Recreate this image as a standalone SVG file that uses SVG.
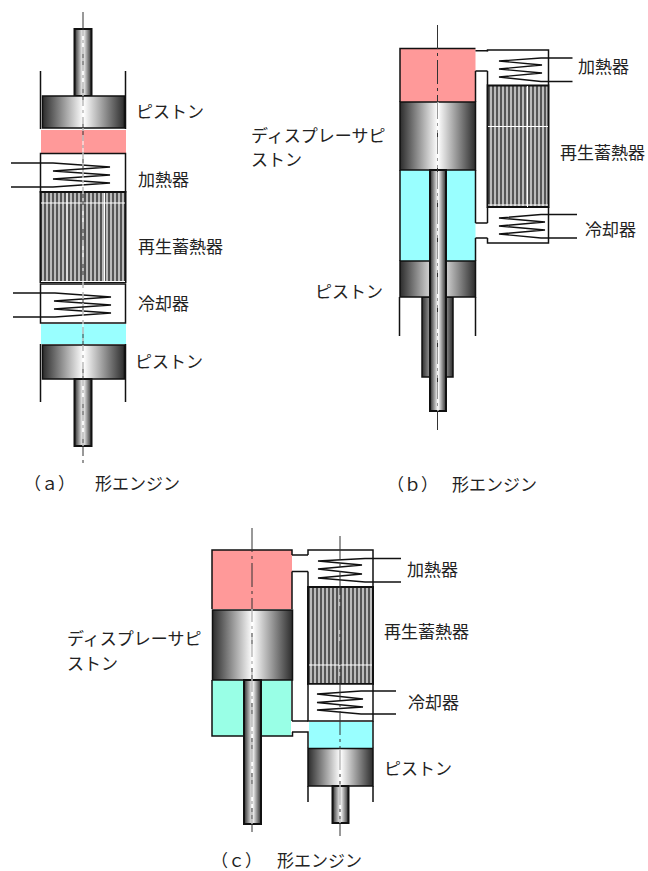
<svg xmlns="http://www.w3.org/2000/svg" width="648" height="871" viewBox="0 0 648 871">
<style>
text{font-family:"Noto Sans CJK JP","Noto Sans",sans-serif;font-size:17px;fill:#222}
.o{fill:none;stroke:#111;stroke-width:1.5}
.w{fill:none;stroke:#111;stroke-width:1.5}
.c{fill:none;stroke:#111;stroke-width:1.4}
.p{stroke:#111;stroke-width:1.5;fill:url(#g)}
.r{stroke:#111;stroke-width:2;fill:url(#g)}
.box{fill:#fff;stroke:#111;stroke-width:1.5}
.pink{fill:#ff9999}
.cyan{fill:#99ffff}
.teal{fill:#99ffe6}
.reg{fill:url(#s);stroke:#111;stroke-width:2}
.ax{fill:none;stroke:#333;stroke-width:1;stroke-dasharray:24 4 3 4}
.axw{fill:none;stroke:#fff;stroke-width:1;stroke-dasharray:24 4 3 4}
.wl{stroke:#fff;stroke-width:1}
</style>
<defs>
<linearGradient id="g"><stop offset="0" stop-color="#2c2c2c"/><stop offset=".5" stop-color="#fff"/><stop offset="1" stop-color="#2c2c2c"/></linearGradient>
<pattern id="s" patternUnits="userSpaceOnUse" width="4" height="4"><rect width="4" height="4" fill="#555"/><rect x="2" width="2" height="4" fill="#bbb"/></pattern>
</defs>

<g id="a-rod-top"><rect class="r" x="74.500" y="29" width="17" height="67"/></g>
<g id="a-walls"><path class="w" d="M40.500 71V129M125.500 71V129M40.500 344V402M125.500 344V402"/></g>
<g id="a-piston-top"><rect class="p" x="42.500" y="96" width="82" height="32"/></g>
<g id="a-hot"><rect class="pink" x="41" y="130" width="85" height="23"/></g>
<g id="a-heater"><rect class="box" x="40.500" y="153.500" width="85" height="38.500"/><polyline class="c" points="11,163 53,163 110,167 53,171 110,175 53,179 110,183 53,187 11,187"/></g>
<g id="a-regen"><rect class="reg" x="40.500" y="192" width="85" height="90"/><path class="wl" d="M41 203H125M67 193V282M104.500 193V282M41 281.500H125"/></g>
<g id="a-cooler"><rect class="box" x="40.500" y="284" width="85" height="39"/><polyline class="c" points="13,293 55,293 111,297 54,301 111,305 54,309 111,313 55,317 13,317"/></g>
<g id="a-cold"><rect class="cyan" x="41" y="324" width="85" height="20"/></g>
<g id="a-piston-bottom"><rect class="p" x="42.500" y="345" width="82" height="34"/></g>
<g id="a-rod-bottom"><rect class="r" x="74.500" y="379" width="17" height="67"/></g>

<g id="b-hot"><rect class="pink" x="400" y="49" width="75.500" height="53"/><path class="o" d="M400 102V48.500H475.500M475.500 71V102"/></g>
<g id="b-cold"><rect class="cyan" x="400" y="170" width="75.500" height="91"/><path class="o" d="M400 170V261M475.500 170V223M475.500 238V261"/></g>
<g id="b-sleeve"><rect class="p" x="422" y="297" width="31" height="80"/></g>
<g id="b-walls"><path class="w" d="M399.500 297V336M475.500 297V336"/></g>
<g id="b-displacer"><rect class="p" x="400" y="102" width="75.500" height="68"/></g>
<g id="b-piston"><rect class="p" x="400" y="261" width="75.500" height="36"/></g>
<g id="b-rod"><rect class="r" x="430" y="170" width="16" height="241"/></g>
<g id="b-heater"><path class="o" d="M487.500 51.500V50H548.500V85M487.500 71V85"/><polyline class="c" points="572.500,58 541,58 499,61 542,65 499,69 542,73 499,77 541,81.500 572.500,81.500"/></g>
<g id="b-regen"><rect class="reg" x="487.500" y="85.500" width="61" height="121.500"/><path class="wl" d="M488 126.500H548M527.500 86V207M488 205H548"/></g>
<g id="b-cooler"><path class="o" d="M487.500 207.500V223M548.500 207.500V243H487.500V238"/><polyline class="c" points="577,214.500 541,214.500 499,218 545,222 499,226 545,230 499,234 541,238 577,238"/></g>

<g id="c-hot"><rect class="pink" x="212" y="550" width="80" height="59"/><path class="o" d="M212 609V550H292V555M292 571.500V609"/></g>
<g id="c-cold"><rect class="teal" x="212" y="680" width="79" height="56"/><path class="o" d="M212 680V736H292.500V732M292 721V680"/></g>
<g id="c-displacer"><rect class="p" x="212.500" y="610" width="80" height="70"/></g>
<g id="c-rod"><rect class="r" x="244" y="680" width="17" height="144"/></g>
<g id="c-heater"><path class="o" d="M308 555V550H373V587M308 571.500V587"/><polyline class="c" points="401,558.500 365,558.500 318,561 362,565 318,569 362,574 318,578 365,582 401,582"/></g>
<g id="c-regen"><rect class="reg" x="308" y="587" width="65" height="97"/><path class="wl" d="M309 665H372"/></g>
<g id="c-cooler"><rect class="box" x="308" y="684" width="65" height="37"/><polyline class="c" points="396,691 361,691 317,694 363,699 317,702.500 363,707 317,710 361,714 396,714"/></g>
<g id="c-cold2"><rect class="cyan" x="309" y="722" width="63.500" height="26"/><path class="o" d="M373 721V748"/></g>
<g id="c-piston"><rect class="p" x="308" y="748.500" width="65" height="37.500"/></g>
<g id="c-walls"><path class="w" d="M308 786V802M373 786V802"/></g>
<g id="c-rod2"><rect class="r" x="332.500" y="786" width="16" height="37"/></g>

<g id="connectors">
<path class="o" d="M475.500 50.700H487.500M475.500 71H487.500M475.500 223H487.500M475.500 238H487.500"/>
<path class="o" d="M292 555H308M292 571.500H308M292 721H308M292 732H308V748"/>
<path class="ax" d="M83 12V463"/><path class="axw" d="M83 30V446"/>
<path class="ax" d="M437.500 25V430"/><path class="axw" d="M438 102V411"/>
<path class="ax" d="M252 528V836"/><path class="axw" d="M252 609V824"/>
<path class="ax" d="M340 536V836"/><path class="axw" d="M340 749V823"/>
</g>

<g id="labels">
<text x="136" y="118">ピストン</text>
<text x="138" y="186">加熱器</text>
<text x="138" y="253">再生蓄熱器</text>
<text x="138" y="310">冷却器</text>
<text x="135" y="368">ピストン</text>
<text x="24" y="490">（ａ）<tspan x="95">形エンジン</tspan></text>
<text x="578" y="73">加熱器</text>
<text x="560" y="159">再生蓄熱器</text>
<text x="585" y="236">冷却器</text>
<text x="251" y="142">ディスプレーサピ</text>
<text x="251" y="166">ストン</text>
<text x="315" y="298">ピストン</text>
<text x="387" y="491">（ｂ）<tspan x="452">形エンジン</tspan></text>
<text x="407" y="576">加熱器</text>
<text x="384" y="638">再生蓄熱器</text>
<text x="408" y="709">冷却器</text>
<text x="67" y="645">ディスプレーサピ</text>
<text x="67" y="670">ストン</text>
<text x="384" y="775">ピストン</text>
<text x="211" y="867">（ｃ）<tspan x="277">形エンジン</tspan></text>
</g>
</svg>
